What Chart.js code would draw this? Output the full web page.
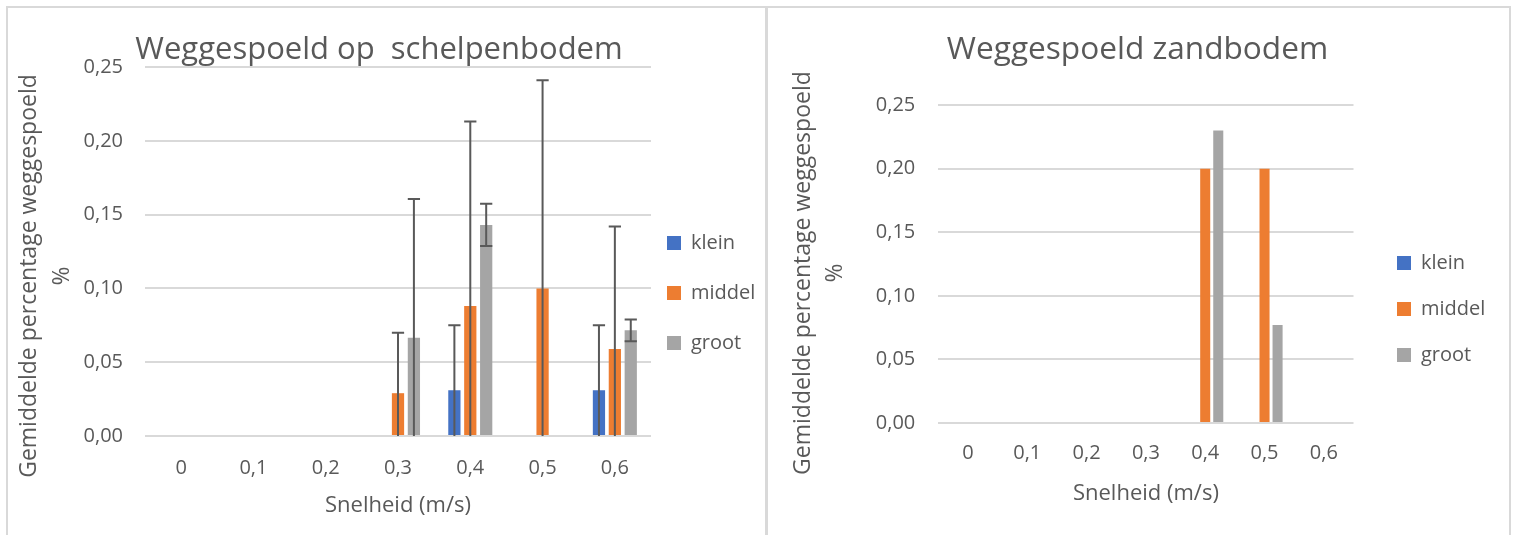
<!DOCTYPE html>
<html>
<head>
<meta charset="utf-8">
<script src="https://cdn.jsdelivr.net/npm/chart.js@4.4.1/dist/chart.umd.min.js"></script>
<style>
	html, body { margin: 0; padding: 0; background: #fff; }
	body { position: relative; width: 1515px; height: 535px; overflow: hidden; }
	canvas { position: absolute; top: 0; }
	#shellChart { left: 0; }
	#sandChart { left: 766px; }
	.frame { position: absolute; top: 6px; height: 540px; border: 2px solid #d9d9d9; pointer-events: none; box-sizing: border-box; }
</style>
</head>
<body>
<canvas id="shellChart" width="766" height="535"></canvas>
<canvas id="sandChart" width="749" height="535"></canvas>
<div class="frame" style="left:6px; width:762px;"></div>
<div class="frame" style="left:765px; width:746px;"></div>
<script>
const categories = ['0', '0,1', '0,2', '0,3', '0,4', '0,5', '0,6'];
const sizeLabels = ['klein', 'middel', 'groot'];
const sizeColors = ['#4472C4', '#ED7D31', '#A5A5A5'];

// schelpenbodem (met foutmarges)
const shellKlein = [0, 0, 0, 0, 0.031, 0, 0.031];
const shellMiddel = [0, 0, 0, 0.029, 0.088, 0.1, 0.059];
const shellGroot = [0, 0, 0, 0.0665, 0.143, 0, 0.0716];
const shellKleinErr = [0, 0, 0, 0, 0.044, 0, 0.044];
const shellMiddelErr = [0, 0, 0, 0.041, 0.125, 0.141, 0.083];
const shellGrootErr = [0, 0, 0, 0.094, 0.0143, 0, 0.0074];

// zandbodem
const sandKlein = [0, 0, 0, 0, 0, 0, 0];
const sandMiddel = [0, 0, 0, 0, 0.2, 0.2, 0];
const sandGroot = [0, 0, 0, 0, 0.23, 0.077, 0];

const yTitleLines = ['Gemiddelde percentage weggespoeld', '%'];
const xTitle = 'Snelheid (m/s)';
const textColor = '#595959';
const fontFamily = '"Open Sans", "Liberation Sans", sans-serif';

const errorBars = {
	id: 'errorBars',
	afterDatasetsDraw(chart) {
		const { ctx, chartArea } = chart;
		const y = chart.scales.y;
		chart.data.datasets.forEach((ds, i) => {
			if (!ds.errors) return;
			const meta = chart.getDatasetMeta(i);
			meta.data.forEach((bar, j) => {
				const e = ds.errors[j];
				if (!e) return;
				const v = ds.data[j];
				const half = bar.width / 2;
				const top = y.getPixelForValue(v + e);
				const bot = y.getPixelForValue(v - e);
				const botClip = Math.min(bot, chartArea.bottom);
				ctx.save();
				ctx.strokeStyle = '#595959';
				ctx.lineWidth = 2;
				ctx.beginPath();
				ctx.moveTo(bar.x, top);
				ctx.lineTo(bar.x, botClip);
				ctx.moveTo(bar.x - half, top);
				ctx.lineTo(bar.x + half, top);
				if (bot <= chartArea.bottom) {
					ctx.moveTo(bar.x - half, bot);
					ctx.lineTo(bar.x + half, bot);
				}
				ctx.stroke();
				ctx.restore();
			});
		});
	},
};

function makeChart(id, series, errs, cfg) {
	const datasets = sizeLabels.map((label, k) => ({
		label: label,
		data: series[k],
		errors: errs ? errs[k] : null,
		backgroundColor: sizeColors[k],
		borderWidth: 0,
		categoryPercentage: 0.66,
		barPercentage: 0.77,
	}));

	// y-as titel: gecentreerd iets onder het midden van het plotgebied
	const sideTitle = {
		id: 'sideTitle',
		afterDraw(chart) {
			const { ctx, chartArea } = chart;
			const cy = (chartArea.top + chartArea.bottom) / 2 + cfg.yTitleShift;
			ctx.save();
			ctx.fillStyle = textColor;
			ctx.font = '23px ' + fontFamily;
			ctx.textAlign = 'center';
			ctx.textBaseline = 'middle';
			ctx.translate(cfg.yTitleX, cy);
			ctx.rotate(-Math.PI / 2);
			yTitleLines.forEach((line, n) => ctx.fillText(line, 0, n * 32.5));
			ctx.restore();
		},
	};

	// legenda horizontaal verschuiven zonder het plotgebied te raken
	const legendShift = {
		id: 'legendShift',
		afterLayout(chart) {
			const lg = chart.legend;
			lg.left += cfg.legendShift;
			lg.right = chart.width;
			lg.width = lg.right - lg.left;
		},
	};

	return new Chart(document.getElementById(id), {
		type: 'bar',
		data: { labels: categories, datasets: datasets },
		plugins: [errorBars, sideTitle, legendShift],
		options: {
			responsive: false,
			animation: false,
			layout: { padding: { left: cfg.padL, right: cfg.padR, top: 0, bottom: 0 } },
			plugins: {
				title: {
					display: true,
					text: cfg.title,
					color: textColor,
					font: { family: fontFamily, size: cfg.titleSize, weight: 'normal', lineHeight: 1.2 },
					padding: { top: 31.4, bottom: cfg.titleBottom },
				},
				legend: {
					position: 'right',
					align: 'start',
					maxWidth: 100,
					title: { display: true, text: ' ', font: { size: 10 }, padding: { top: cfg.legendTop, bottom: 0 } },
					labels: {
						color: textColor,
						font: { family: fontFamily, size: 20 },
						boxWidth: 14,
						boxHeight: 14,
						padding: cfg.legendGap,
					},
				},
				tooltip: { enabled: false },
			},
			scales: {
				x: {
					grid: { display: false, drawTicks: false },
					border: { display: false },
					ticks: { color: textColor, font: { family: fontFamily, size: 20 }, padding: cfg.xTickPad },
					title: {
						display: true,
						text: xTitle,
						color: textColor,
						font: { family: fontFamily, size: 22 },
						padding: { top: 0, bottom: cfg.xTitlePad },
					},
					afterFit: (s) => { s.height = cfg.xHeight; },
				},
				y: {
					min: 0,
					max: 0.25,
					grid: { color: '#d9d9d9', lineWidth: 2, drawTicks: false },
					border: { display: false },
					ticks: {
						stepSize: 0.05,
						color: textColor,
						font: { family: fontFamily, size: 20 },
						padding: cfg.yTickPad,
						callback: (v) => v.toFixed(2).replace('.', ','),
					},
					afterFit: (s) => { s.width = cfg.yWidth; },
				},
			},
		},
	});
}

makeChart('shellChart', [shellKlein, shellMiddel, shellGroot], [shellKleinErr, shellMiddelErr, shellGrootErr], {
	title: 'Weggespoeld op  schelpenbodem', titleSize: 31,
	padL: 7, padR: 15, yWidth: 138, xHeight: 99,
	titleBottom: -1.6, xTickPad: 20, xTitlePad: 15.8, yTickPad: 22,
	legendShift: -14, legendTop: 191, legendGap: 30,
	yTitleX: 29.5, yTitleShift: 24.5,
});

makeChart('sandChart', [sandKlein, sandMiddel, sandGroot], null, {
	title: 'Weggespoeld zandbodem', titleSize: 31.6,
	padL: 55.5, padR: 61.5, yWidth: 116.8, xHeight: 112,
	titleBottom: 35.8, xTickPad: 18.5, xTitlePad: 27.8, yTickPad: 23,
	legendShift: 17.5, legendTop: 215, legendGap: 26,
	yTitleX: 37, yTitleShift: 9,
});
</script>
</body>
</html>
